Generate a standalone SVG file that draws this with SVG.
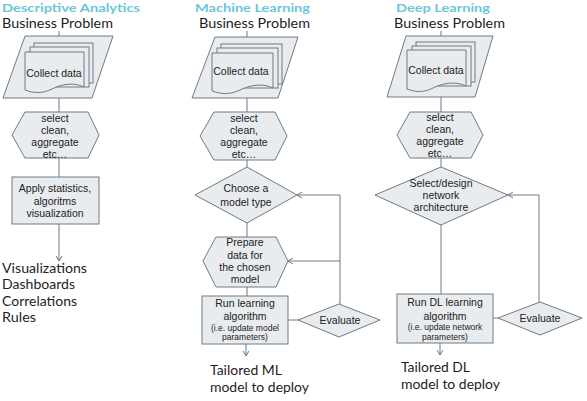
<svg xmlns="http://www.w3.org/2000/svg" width="587" height="401" viewBox="0 0 587 401">
<style>
.shape{fill:#e9ecef;stroke:#6f7a84;stroke-width:1}
.conn{fill:none;stroke:#6f7a84;stroke-width:1}
.title{font-family:Lato,"Noto Sans",sans-serif;font-weight:bold;font-size:12px;fill:#6cc6da}
.head{font-family:Lato,"Noto Sans",sans-serif;font-size:13px;fill:#1e1e1e}
.out{font-family:Lato,"Noto Sans",sans-serif;font-size:13.5px;fill:#1e1e1e}
.out2{font-family:Lato,"Noto Sans",sans-serif;font-size:14px;fill:#1e1e1e}
.t{font-family:"Liberation Sans",Arial,sans-serif;font-size:10.5px;fill:#222;text-anchor:middle}
.s{font-family:"Liberation Sans",Arial,sans-serif;font-size:8.5px;fill:#222;text-anchor:middle}
</style>
<defs>
<marker id="arr" markerWidth="8" markerHeight="8" refX="6" refY="4" orient="auto" markerUnits="userSpaceOnUse">
<path d="M1,1 L6,4 L1,7" fill="none" stroke="#6f7a84" stroke-width="1"/>
</marker>
</defs>
<rect width="587" height="401" fill="#ffffff"/>

<g id="headings">
<text class="title" x="2" y="11.5" textLength="138" lengthAdjust="spacingAndGlyphs">Descriptive Analytics</text>
<text class="title" x="195" y="11.5" textLength="115" lengthAdjust="spacingAndGlyphs">Machine Learning</text>
<text class="title" x="396" y="11.5" textLength="94" lengthAdjust="spacingAndGlyphs">Deep Learning</text>
<text class="head" x="2" y="27.5" textLength="111" lengthAdjust="spacingAndGlyphs">Business Problem</text>
<text class="head" x="199" y="27.5" textLength="111" lengthAdjust="spacingAndGlyphs">Business Problem</text>
<text class="head" x="394" y="27.5" textLength="111" lengthAdjust="spacingAndGlyphs">Business Problem</text>
</g>

<g id="connectors">
<!-- column 1 -->
<line class="conn" x1="59" y1="31" x2="59" y2="36"/>
<line class="conn" x1="59" y1="98" x2="59" y2="112"/>
<line class="conn" x1="59" y1="158" x2="59" y2="177"/>
<line class="conn" x1="59" y1="224" x2="59" y2="261" marker-end="url(#arr)"/>
<!-- column 2 -->
<line class="conn" x1="247" y1="31" x2="247" y2="37"/>
<line class="conn" x1="247" y1="98" x2="247" y2="112"/>
<line class="conn" x1="247" y1="160" x2="247" y2="167"/>
<line class="conn" x1="247" y1="223" x2="247" y2="237"/>
<line class="conn" x1="247" y1="287" x2="247" y2="296"/>
<line class="conn" x1="246" y1="344" x2="246" y2="356" marker-end="url(#arr)"/>
<line class="conn" x1="288" y1="320" x2="298" y2="320"/>
<polyline class="conn" points="340,304 340,195 297,195" marker-end="url(#arr)"/>
<line class="conn" x1="340" y1="261" x2="288" y2="261" marker-end="url(#arr)"/>
<!-- column 3 -->
<line class="conn" x1="441" y1="31" x2="441" y2="36"/>
<line class="conn" x1="441" y1="97" x2="441" y2="112"/>
<line class="conn" x1="441" y1="158" x2="441" y2="167"/>
<line class="conn" x1="441" y1="225" x2="441" y2="294"/>
<line class="conn" x1="440" y1="343" x2="440" y2="355" marker-end="url(#arr)"/>
<line class="conn" x1="493" y1="318" x2="498" y2="318"/>
<polyline class="conn" points="539,302 539,195 508,195" marker-end="url(#arr)"/>
</g>

<!-- Column 1 -->
<g id="collect1">
<polygon class="shape" points="25,36 113,36 92,98 3,98"/>
<rect class="shape" x="34" y="43" width="59" height="40"/>
<rect class="shape" x="30" y="47" width="59" height="40"/>
<path class="shape" d="M25,52 H84 V87 C74,82 62,84 52,89 C42,94 33,93 25,90 Z"/>
<text class="t" x="54" y="77">Collect data</text>
</g>
<g id="select1">
<polygon class="shape" points="25,112 88,112 99,135 88,158 25,158 12,135"/>
<text class="t" x="55" y="122">select</text>
<text class="t" x="55" y="134">clean,</text>
<text class="t" x="55" y="146">aggregate</text>
<text class="t" x="55" y="158">etc…</text>
</g>
<g id="apply1">
<rect class="shape" x="12" y="177" width="87" height="47"/>
<text class="t" x="55" y="192">Apply statistics,</text>
<text class="t" x="55" y="204.5">algoritms</text>
<text class="t" x="55" y="217">visualization</text>
</g>
<g id="output1">
<text class="out" x="2" y="273" textLength="85" lengthAdjust="spacingAndGlyphs">Visualizations</text>
<text class="out" x="2" y="289.3" textLength="73" lengthAdjust="spacingAndGlyphs">Dashboards</text>
<text class="out" x="2" y="305.6" textLength="75" lengthAdjust="spacingAndGlyphs">Correlations</text>
<text class="out" x="2" y="322" textLength="34" lengthAdjust="spacingAndGlyphs">Rules</text>
</g>

<!-- Column 2 -->
<g id="collect2">
<polygon class="shape" points="215,37 298,37 278,98 192,98"/>
<rect class="shape" x="221" y="44" width="61" height="40"/>
<rect class="shape" x="217" y="48" width="61" height="40"/>
<path class="shape" d="M212,53 H273 V88 C263,83 250,85 240,90 C230,95 221,94 212,91 Z"/>
<text class="t" x="241" y="75">Collect data</text>
</g>
<g id="select2">
<polygon class="shape" points="214,112 275,112 287,136 275,160 214,160 200,136"/>
<text class="t" x="244" y="122">select</text>
<text class="t" x="244" y="134">clean,</text>
<text class="t" x="244" y="146">aggregate</text>
<text class="t" x="244" y="158">etc…</text>
</g>
<g id="choose2">
<polygon class="shape" points="247,167 297,195 247,223 195,195"/>
<text class="t" x="246" y="192">Choose a</text>
<text class="t" x="246" y="206">model type</text>
</g>
<g id="prepare2">
<polygon class="shape" points="216,237 276,237 288,261 276,287 216,287 203,261"/>
<text class="t" x="245" y="246">Prepare</text>
<text class="t" x="245" y="259">data for</text>
<text class="t" x="245" y="271">the chosen</text>
<text class="t" x="245" y="283">model</text>
</g>
<g id="run2">
<rect class="shape" x="202" y="296" width="86" height="48"/>
<text class="t" x="245" y="307">Run learning</text>
<text class="t" x="245" y="320">algorithm</text>
<text class="s" x="245" y="331">(i.e. update model</text>
<text class="s" x="245" y="340">parameters)</text>
</g>
<g id="evaluate2">
<polygon class="shape" points="339,304 380,320 339,337 298,320"/>
<text class="t" x="340" y="324">Evaluate</text>
</g>
<g id="output2">
<text class="out2" x="210" y="374.5" textLength="72" lengthAdjust="spacingAndGlyphs">Tailored ML</text>
<text class="out2" x="210" y="391.5" textLength="99" lengthAdjust="spacingAndGlyphs">model to deploy</text>
</g>

<!-- Column 3 -->
<g id="collect3">
<polygon class="shape" points="406,36 493,36 475,97 387,97"/>
<rect class="shape" x="416" y="42" width="59" height="40"/>
<rect class="shape" x="412" y="46" width="59" height="40"/>
<path class="shape" d="M407,50 H466 V86 C456,81 443,83 433,88 C423,93 415,92 407,89 Z"/>
<text class="t" x="436" y="74">Collect data</text>
</g>
<g id="select3">
<polygon class="shape" points="410,112 471,112 483,135 471,158 410,158 397,135"/>
<text class="t" x="440" y="121">select</text>
<text class="t" x="440" y="133">clean,</text>
<text class="t" x="440" y="145">aggregate</text>
<text class="t" x="440" y="157">etc…</text>
</g>
<g id="design3">
<polygon class="shape" points="441,167 508,195 441,225 375,195"/>
<text class="t" x="441" y="187">Select/design</text>
<text class="t" x="441" y="199">network</text>
<text class="t" x="441" y="211">architecture</text>
</g>
<g id="run3">
<rect class="shape" x="397" y="294" width="96" height="49"/>
<text class="t" x="445" y="306">Run DL learning</text>
<text class="t" x="445" y="320">algorithm</text>
<text class="s" x="445" y="330">(i.e. update network</text>
<text class="s" x="445" y="340">parameters)</text>
</g>
<g id="evaluate3">
<polygon class="shape" points="540,302 582,318 540,335 498,318"/>
<text class="t" x="540" y="322">Evaluate</text>
</g>
<g id="output3">
<text class="out2" x="401" y="371.5" textLength="69" lengthAdjust="spacingAndGlyphs">Tailored DL</text>
<text class="out2" x="401" y="388.5" textLength="99" lengthAdjust="spacingAndGlyphs">model to deploy</text>
</g>
</svg>
